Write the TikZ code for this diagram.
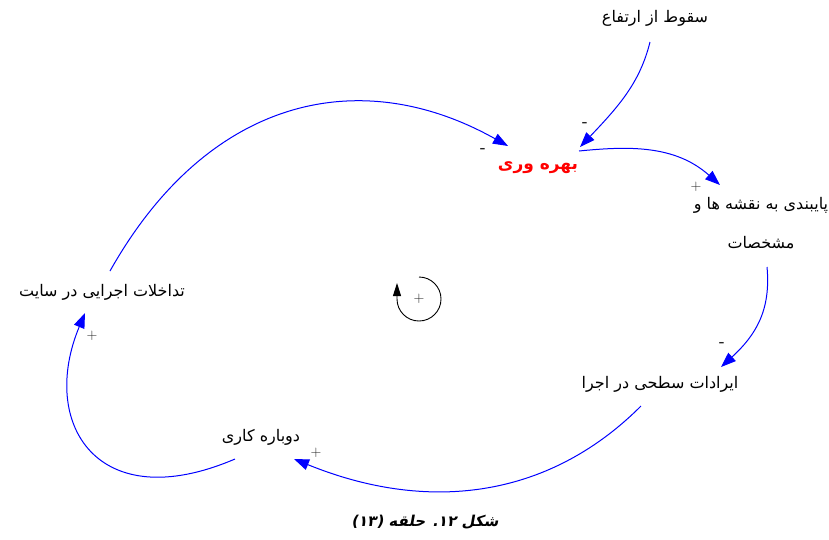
\documentclass[tikz,border=0pt]{standalone}
\usepackage{fontspec}
\usetikzlibrary{arrows.meta}
\TeXXeTstate=1
\newfontfamily\arabicfont[Script=Arabic]{DejaVu Sans}
\newfontfamily\capfont[Script=Arabic,FakeSlant=0.18]{DejaVu Sans}
\definecolor{linkblue}{RGB}{0,0,255}
\definecolor{signgray}{RGB}{35,35,35}
\begin{document}
\begin{tikzpicture}[x=1pt,y=-1pt,
  var/.style={inner sep=0pt,font=\arabicfont\fontsize{16}{18}\selectfont},
  sgn/.style={inner sep=0pt,text=signgray,font=\fontsize{15}{15}\selectfont},
  link/.style={draw=linkblue,line width=1pt,-{Triangle[length=15pt,width=11pt]}}]
\useasboundingbox (0,0) rectangle (829,539);
% variables
\node[var] (fall) at (655,18) {\beginR سقوط از ارتفاع\endR};
\node[var,text=red,font=\arabicfont\bfseries\fontsize{17}{19}\selectfont] (prod) at (538,168) {\beginR بهره وری\endR};
\node[var,align=center,font=\arabicfont\fontsize{16}{39}\selectfont] (adh) at (761,223) {\beginR پایبندی به نقشه ها و\endR\\\beginR مشخصات\endR};
\node[var] (def) at (660,384) {\beginR ایرادات سطحی در اجرا\endR};
\node[var] (rew) at (261,437) {\beginR دوباره کاری\endR};
\node[var] (int) at (102,292) {\beginR تداخلات اجرایی در سایت\endR};
% caption
\node[var,font=\capfont\bfseries\fontsize{15}{17}\selectfont] (cap) at (425,522) {\beginR شکل ۱۲. حلقه (۱۳)\endR};
% loop marker
\node[sgn] (loop) at (419,299) {+};
\draw[line width=0.9pt,-{Triangle[length=13pt,width=8pt]}]
  ([shift={(0,-22)}]loop.center) arc[start angle=90,end angle=-180,radius=22pt] -- ++(0,-16);
% connectors
\draw[link] ([shift={(-5,24)}]fall.center) .. controls +(-10,40) and +(40,-42) .. ([shift={(42,-21)}]prod.center);
\draw[link] ([shift={(41,-17)}]prod.center) .. controls +(50,-5) and +(-45,-40) .. ([shift={(-41,-38)}]adh.center);
\draw[link] ([shift={(6,44)}]adh.center) .. controls +(4,43) and +(35,-32) .. ([shift={(61,-17)}]def.center);
\draw[link] ([shift={(-19,22)}]def.center) .. controls +(-95,95) and +(130,53) .. ([shift={(33,22)}]rew.center);
\draw[link] ([shift={(-26,22)}]rew.center) .. controls +(-138,59) and +(-46,110) .. ([shift={(-17,21)}]int.center);
\draw[link] ([shift={(8,-21)}]int.center) .. controls +(98,-174) and +(-148,-83) .. ([shift={(-30,-22)}]prod.center);
% polarity signs
\node[sgn] (s1) at (585,124) {\textbf{-}};
\node[sgn] (s6) at (483,150) {\textbf{-}};
\node[sgn] (s2) at (696,187) {+};
\node[sgn] (s3) at (722,344) {\textbf{-}};
\node[sgn] (s4) at (316,453) {+};
\node[sgn] (s5) at (92,336) {+};
\end{tikzpicture}
\end{document}
